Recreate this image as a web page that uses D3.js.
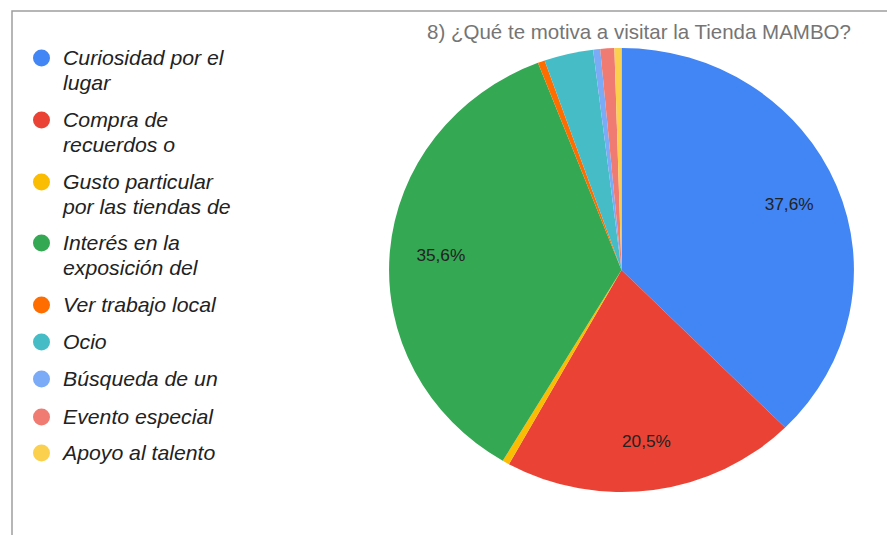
<!DOCTYPE html>
<html>
<head>
<meta charset="utf-8">
<script src="https://cdn.jsdelivr.net/npm/d3@7"></script>
<style>
  html, body { margin: 0; padding: 0; background: #fff; }
  svg { display: block; }
</style>
</head>
<body>
<svg id="chart" width="887" height="535"></svg>
<script>
// Survey answers: "8) ¿Qué te motiva a visitar la Tienda MAMBO?"
const chartTitle = "8) ¿Qué te motiva a visitar la Tienda MAMBO?";
const categories = [
  ["Curiosidad por el", "lugar"],
  ["Compra de", "recuerdos o"],
  ["Gusto particular", "por las tiendas de"],
  ["Interés en la", "exposición del"],
  ["Ver trabajo local"],
  ["Ocio"],
  ["Búsqueda de un"],
  ["Evento especial"],
  ["Apoyo al talento"]
];
const responses = [77, 42, 1, 73, 1, 7, 1, 2, 1];
const colors = ["#4285f4", "#ea4335", "#fbbc04", "#34a853", "#ff6d01",
                "#46bdc6", "#7baaf7", "#f07b72", "#fcd04f"];
const labelThreshold = 0.05; // slices under 5% carry no percentage label

const svg = d3.select("#chart");
const W = 887, H = 535;
const sx = 1.047; // the whole drawing is a touch wider than tall
const font = "Liberation Sans, Arial, sans-serif";

// Frame lines (top and left)
svg.append("path")
  .attr("d", `M12,${H} V11 H${W}`)
  .attr("fill", "none")
  .attr("stroke", "#9e9e9e")
  .attr("stroke-width", 1.5);

// Title
svg.append("text")
  .attr("transform", `translate(639,39) scale(${sx},1)`)
  .attr("text-anchor", "middle")
  .attr("font-family", font)
  .attr("font-size", 19.6)
  .attr("fill", "#757575")
  .text(chartTitle);

// Pie
const cx = 621.5, cy = 270, r = 222;
const total = d3.sum(responses);
const pie = d3.pie().sort(null).value(d => d)(responses);
const arc = d3.arc().innerRadius(0).outerRadius(r);
const labelArc = d3.arc().innerRadius(r * 0.78).outerRadius(r * 0.78);

const g = svg.append("g").attr("transform", `translate(${cx},${cy}) scale(${sx},1)`);
g.selectAll("path.slice")
  .data(pie)
  .join("path")
  .attr("class", "slice")
  .attr("d", arc)
  .attr("fill", (d, i) => colors[i]);

const fmt = v => (v * 100).toFixed(1).replace(".", ",") + "%";
svg.append("g")
  .selectAll("text")
  .data(pie.filter(d => d.value / total >= labelThreshold))
  .join("text")
  .attr("transform", d => {
    const [x, y] = labelArc.centroid(d);
    return `translate(${cx + x * sx},${cy + y}) scale(${sx},1)`;
  })
  .attr("dy", "0.35em")
  .attr("text-anchor", "middle")
  .attr("font-family", font)
  .attr("font-size", 16.5)
  .attr("fill", "#222")
  .text(d => fmt(d.value / total));

// Legend
const legendY = [58, 120, 182, 243, 305, 342, 379, 417, 453];
const legend = svg.append("g");
const item = legend.selectAll("g")
  .data(categories)
  .join("g")
  .attr("transform", (d, i) => `translate(0,${legendY[i]})`);
item.append("circle")
  .attr("cx", 41.5)
  .attr("cy", 0)
  .attr("r", 8.5)
  .attr("fill", (d, i) => colors[i]);
item.append("text")
  .attr("transform", `translate(63,0) scale(${sx},1)`)
  .attr("font-family", font)
  .attr("font-size", 20.3)
  .attr("font-style", "italic")
  .attr("fill", "#222")
  .selectAll("tspan")
  .data(d => d)
  .join("tspan")
  .attr("x", 0)
  .attr("dy", (d, i) => i === 0 ? "0.36em" : "24.5px")
  .text(d => d);
</script>
</body>
</html>
